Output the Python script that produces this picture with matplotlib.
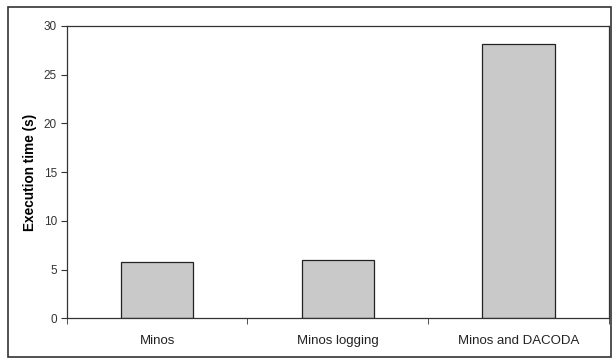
import numpy as np
import matplotlib.pyplot as plt
from matplotlib.patches import Rectangle

plt.rcParams['font.family'] = ['Liberation Sans', 'DejaVu Sans']

categories = ["Minos", "Minos logging", "Minos and DACODA"]
times = [5.75, 6.0, 28.15]
yticks = [0, 5, 10, 15, 20, 25, 30]

fig = plt.figure(figsize=(6.13, 3.61), dpi=100)
ax = fig.add_axes([66.7/613, 1 - 318.3/361, (609 - 66.7)/613, (318.3 - 26)/361])

# outer chart border
fig.patches.append(Rectangle((8/613, 4/361), 603/613, 350/361, transform=fig.transFigure,
                             fill=False, edgecolor='#333333', linewidth=1.2))

x = np.arange(len(categories))
ax.bar(x, times, width=0.4, color='#c9c9c9', edgecolor='#222222', linewidth=0.9)

ax.set_xlim(-0.5, len(categories) - 0.5)
ax.set_ylim(0, 30)
ax.set_yticks(yticks)
ax.set_yticklabels([str(v) for v in yticks], fontsize=8.5, color='#333333')
ax.set_xticks(x)
ax.set_xticklabels(categories, fontsize=9.5, color='#222222')
ax.tick_params(axis='x', length=0, pad=12)
ax.set_xticks(np.arange(len(categories) + 1) - 0.5, minor=True)
ax.tick_params(axis='x', which='minor', length=4, direction='out', color='#333333')
ax.tick_params(axis='y', length=4, direction='out', color='#333333', pad=3)

for s in ax.spines.values():
    s.set_color('#333333')
    s.set_linewidth(0.9)

ax.set_ylabel('Execution time (s)', fontsize=9.8, fontweight='bold', labelpad=5)

fig.savefig('out.png', dpi=100)
